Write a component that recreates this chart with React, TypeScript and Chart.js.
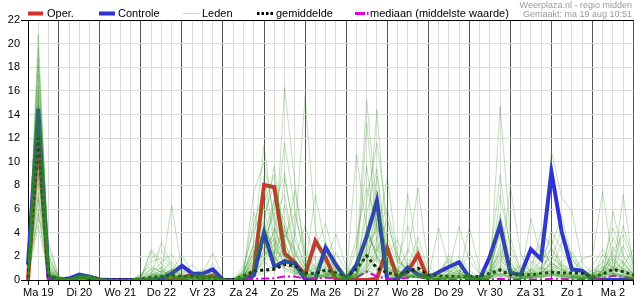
import React, { useEffect, useRef } from 'react';
import { Chart, registerables } from 'chart.js';
Chart.register(...registerables);

// Day labels (tick at 12:00 of each day); series start Ma 19 06:00, 6-hourly
const dayNames = ['Ma 19','Di 20','Wo 21','Do 22','Vr 23','Za 24','Zo 25','Ma 26','Di 27','Wo 28','Do 29','Vr 30','Za 31','Zo 1','Ma 2','Di 3'];
const stepHours = [0, 6, 12, 18];
const pointCount = 60;
const catDay: number[] = [];
const catHour: number[] = [];
const categories: string[] = [];
for (let i = 0; i < pointCount; i++) {
  const s = i + 1;
  catDay.push(Math.floor(s / 4));
  catHour.push(stepHours[s % 4]);
  categories.push(dayNames[Math.floor(s / 4)] + ' ' + String(stepHours[s % 4]).padStart(2, '0') + ':00');
}

const headerLines = ['Weerplaza.nl - regio midden', 'Gemaakt: ma 19 aug 10:51'];

const oper = [
  0, 12.0, 0.15, 0.05, 0.05, 0.25, 0.25, 0.05, 0, 0,
  0, 0, 0, 0.02, 0.05, 0.2, 0.45, 0.2, 0.35, 0,
  0, 0, 0.7, 8.05, 7.85, 2.25, 1.5, 0.42, 3.3, 1.86,
  0, 0, 0, 0, 0.1, 2.73, 0.14, 0.7, 2.15, 0,
  null, null, null, null, null, null, null, null, null, null,
  null, null, null, null, null, null, null, null, null, null,
];

const controle = [
  1.3, 14.5, 0.3, 0.05, 0.12, 0.45, 0.28, 0.03, 0, 0,
  0, 0, 0, 0.1, 0.55, 1.2, 0.56, 0.53, 0.9, 0,
  0, 0, 0.4, 4.0, 1.13, 1.6, 1.4, 0.05, 0.05, 2.73,
  1.3, 0.05, 1.27, 3.67, 6.71, 0.05, 0.05, 1.07, 0.48, 0.2,
  0.65, 1.1, 1.5, 0.22, 0.05, 1.97, 4.65, 0.62, 0.42, 2.6,
  1.75, 9.16, 4.09, 0.9, 0.79, 0.08, 0, 0, 0, 0,
];

const gemiddelde = [
  0.2, 12, 0.4, 0.1, 0.05, 0.2, 0.15, 0.03, 0.02, 0.02,
  0.02, 0.08, 0.25, 0.3, 0.35, 0.3, 0.25, 0.2, 0.2, 0.05,
  0.05, 0.35, 0.75, 0.85, 0.9, 1.3, 1.2, 0.6, 0.55, 0.85,
  0.6, 0.25, 0.9, 2.05, 1.0, 0.62, 0.42, 0.7, 1.0, 0.42,
  0.35, 0.3, 0.28, 0.28, 0.3, 0.55, 0.85, 0.42, 0.48, 0.42,
  0.56, 0.65, 0.6, 0.6, 0.56, 0.25, 0.5, 0.9, 0.7, 0.42,
];

const mediaan = [
  0, 12, 0.1, 0, 0, 0, 0, 0, 0, 0,
  0, 0, 0, 0, 0, 0, 0, 0, 0, 0,
  0, 0.02, 0.1, 0.12, 0.15, 0.3, 0.3, 0.1, 0.1, 0.2,
  0.15, 0.05, 0.2, 0.7, 0.3, 0.1, 0.05, 0.2, 0.3, 0.05,
  0.02, 0.02, 0.02, 0.02, 0.02, 0.05, 0.1, 0.05, 0.05, 0.05,
  0.05, 0.1, 0.1, 0.05, 0.05, 0.05, 0.15, 0.35, 0.3, 0.1,
];

const lid01 = [0.2,20.8,1.2,0.1,0,0.3,0.2,0,0,0, 0,0,0.4,0.8,0.3,0,0,0.1,0,0, 0,0.5,3.2,11.4,4.5,2.0,0.8,0.3,1.2,0.5, 0.2,0,0.8,4.2,2.1,0.6,0.3,1.5,0.8,0.2, 0,0.3,0.6,0.2,0,0.8,2.2,0.9,0.3,0.5, 1.8,3.5,1.2,0.4,0.2,0,0.5,1.8,0.9,0.3];
const lid02 = [1.5,18.2,2.8,0.3,0.1,0.4,0.3,0.1,0,0, 0,0.2,2.6,1.4,0.6,0.2,0.1,0.5,2.3,0.2, 0,0.2,1.1,4.8,9.6,3.2,1.0,0.4,0.2,2.1, 0.9,0.1,1.6,15.2,6.0,1.2,0.4,0.2,0.8,0.3, 0.4,2.1,0.8,0.3,0.1,0.2,14.7,3.6,0.8,0.2, 0.6,1.4,0.9,0.3,0.1,0.2,2.2,0.8,0.4,0.1];
const lid03 = [0.8,16.5,0.6,0.1,0,0.2,0.4,0,0,0, 0.1,0.1,0.3,3.2,1.2,0.3,0.5,0.2,0.1,0, 0,0.8,5.8,2.4,1.6,16.3,8.2,1.8,0.6,0.3, 1.2,0.4,0.2,2.8,14.4,3.1,0.8,0.4,0.3,0.1, 0,0.1,0.2,4.5,1.0,0.3,1.1,0.5,0.2,5.2, 2.0,0.8,0.4,0.2,0.1,0.3,0.6,0.4,7.2,1.0];
const lid04 = [0.1,14.8,0.4,0,0,0.1,0.1,0,0,0, 0,0.5,1.2,0.6,6.3,0.8,0.2,0.1,0.3,0, 0,0.3,0.9,8.8,3.5,1.2,3.8,15.5,4.2,1.0, 0.5,0.2,10.6,4.4,1.9,0.7,0.3,7.3,2.0,0.5, 0.2,0.6,1.3,0.4,0.2,0.5,0.9,7.9,2.2,0.6, 0.3,0.8,1.5,2.4,0.9,0.4,0.2,0.5,0.3,0.2];
const lid05 = [0.4,12.5,0.8,0.2,0.1,0.5,0.3,0.1,0,0, 0,0,0.2,0.5,0.8,2.1,0.6,0.2,0.4,0.1, 0,1.2,4.2,6.1,2.0,0.8,0.5,0.9,7.2,2.8, 0.6,0.2,0.5,1.2,3.4,8.7,2.1,0.6,0.3,0.2, 4.4,1.2,0.5,0.1,0,0.3,0.5,0.2,0.1,0.4, 0.6,10.9,7.0,5.8,1.4,0.6,0.3,0.8,1.6,0.5];
const lid06 = [0,10.2,0.3,0,0,0.2,0.2,0,0,0, 0,0,0,0.3,0.9,0.4,0.2,0,0,0, 0,0.2,2.5,3.1,1.1,6.4,2.3,0.8,2.6,4.8, 1.5,0.4,0.2,0.9,2.6,1.4,0.9,2.2,7.8,1.2, 0.3,0.8,4.5,1.6,0.5,0.2,0.4,1.2,0.6,0.3, 0.2,0.4,0.3,0.6,1.8,2.1,7.5,1.4,0.5,0.2];
const lid07 = [0.6,8.9,1.8,0.2,0,0.3,0.4,0.1,0,0, 0,0.1,0.8,0.4,0.2,0.5,1.3,0.4,0.2,0, 0,0.6,7.5,9.9,5.2,2.6,1.0,0.3,0.4,0.8, 0.3,0.1,0.3,4.6,1.8,0.4,0.2,0.6,0.4,0.1, 0.2,0.4,0.8,0.3,0.1,1.5,8.9,2.4,0.6,0.9, 0.4,0.3,0.8,1.0,0.5,0.3,0.4,5.8,2.1,0.6];
const lid08 = [0.3,6.8,0.5,0.1,0,0.1,0.2,0,0,0, 0,0,0.2,0.1,0.3,0.2,0.1,0.8,0.4,0, 0,0.1,0.4,1.8,7.0,4.4,1.6,0.6,0.2,0.4, 2.3,0.8,0.4,13.3,4.2,1.0,0.5,0.3,0.2,0.6, 0.2,0.1,0.3,0.5,0.2,0.9,0.3,0.6,1.2,0.8, 4.1,2.8,1.0,0.3,0.2,0.1,0.2,0.4,1.2,2.6];
const lid09 = [1.0,5.2,3.2,0.3,0.1,0.4,0.3,0.1,0.1,0, 0,0.3,1.8,2.5,1.0,0.3,0.2,0.1,0.1,0.1, 0,0.4,1.6,2.8,6.2,9.1,3.4,1.2,0.5,0.2, 0.6,0.2,1.1,5.6,9.4,2.4,0.7,0.2,0.4,0.2, 0.1,0.2,0.4,0.2,0.1,0.4,4.8,1.5,0.4,0.2, 0.5,1.6,4.4,1.8,0.6,0.3,0.8,2.4,3.8,1.2];
const lid10 = [0.2,4.6,0.2,0,0,0,0.1,0,0,0, 0,0,0.1,0.2,0.1,0,0,0,0,0, 0,0.1,0.3,0.6,0.9,1.4,0.6,0.2,0.1,0.3, 0.2,0,0.1,0.8,0.5,0.2,0.1,0.3,0.2,0.1, 0,0,0.1,0.1,0,0.1,0.3,0.2,0.1,0.1, 0.2,0.4,0.2,0.1,0,0,0.1,0.3,0.2,0.1];
const lid11 = [0.5,17.4,1.0,0.1,0,0.2,0.3,0,0,0, 0,0.2,0.6,1.5,2.2,0.6,0.2,0.3,0.5,0, 0,0.9,2.1,5.4,8.1,3.6,5.6,2.2,0.9,1.6, 3.9,1.1,0.4,2.2,5.8,3.6,1.4,4.6,1.2,0.4, 0.3,1.8,0.6,0.2,0.1,0.6,2.6,1.1,0.5,1.3, 3.2,1.1,0.6,0.4,0.3,0.8,1.4,4.4,2.0,0.8];
const lid12 = [0.9,15.6,0.7,0.2,0.1,0.3,0.2,0,0,0, 0,0,0.3,0.8,0.4,0.1,0.3,0.6,0.2,0, 0,0.2,0.7,2.6,4.0,11.6,6.0,1.4,0.3,0.5, 0.2,0.1,0.5,6.8,11.6,5.2,1.6,0.8,0.5,0.2, 0.1,0.3,0.2,0.1,0.1,0.3,1.4,0.7,0.2,0.4, 0.9,2.2,1.0,0.5,0.3,0.2,0.6,1.1,0.7,0.3];
const lid13 = [0.1,13.2,0.3,0,0,0.1,0.1,0,0,0, 0,0.1,0.5,0.2,0.1,0.2,0.1,0.2,0.1,0, 0,0.3,1.4,4.2,2.8,1.5,1.8,4.6,1.6,0.7, 0.4,0.1,0.6,3.4,7.6,1.8,0.5,0.3,0.2,0.1, 0.2,0.5,2.0,0.8,0.2,0.3,0.6,0.2,0.1,0.3, 0.5,0.8,0.5,0.2,0.1,0.2,0.8,3.6,1.5,0.4];
const lid14 = [1.2,11.0,2.2,0.2,0.1,0.4,0.2,0.1,0,0, 0,0,0.4,1.1,0.5,0.2,0,0.1,0,0, 0,0.6,2.9,1.6,0.8,3.2,1.1,0.4,0.6,1.0, 0.4,0.2,2.8,9.6,3.2,1.4,0.6,1.8,0.9,0.3, 0.1,0.2,0.4,0.2,0,0.2,7.2,2.9,0.9,0.5, 0.2,0.6,1.3,0.8,0.4,1.2,2.6,1.0,0.6,0.2];
const lid15 = [0.3,9.6,0.4,0.1,0,0.2,0.3,0,0,0, 0,0,0.1,0.4,0.8,0.3,0.1,0.2,0.6,0.1, 0,0.4,1.0,3.6,5.5,7.2,2.4,0.9,3.5,1.4, 0.5,0.2,0.4,1.6,4.8,1.1,0.4,0.6,2.8,0.6, 0.3,0.8,0.3,0.1,0.1,0.5,3.0,0.8,0.3,0.2, 0.5,2.9,5.4,1.8,0.7,0.3,0.5,0.9,2.9,0.9];
const lid16 = [0.7,7.4,1.4,0.1,0,0.3,0.2,0,0,0, 0,0.2,2.4,0.9,0.3,0.1,0.2,0.1,0.1,0, 0,0.2,0.6,1.2,2.2,4.6,1.8,0.5,0.3,0.2, 0.8,0.3,0.2,0.7,1.9,0.6,0.3,0.2,0.6,0.2, 0.1,0.1,0.2,0.3,0.1,0.2,0.8,0.5,0.2,0.6, 1.1,0.6,0.4,0.2,0.1,0.3,0.5,1.8,0.8,0.4];
const lid17 = [0.4,19.6,1.6,0.2,0.1,0.5,0.4,0.1,0,0, 0,0,0.2,0.6,1.6,0.4,0.2,0.3,0.2,0, 0,0.7,4.8,7.6,3.0,1.4,0.6,0.3,0.8,3.2, 1.2,0.3,1.4,3.8,2.4,5.2,1.6,0.9,0.4,0.2, 0.6,0.8,0.5,2.4,0.6,0.8,5.6,1.8,0.7,1.6, 0.9,4.2,2.6,0.9,0.4,0.2,0.4,2.8,1.3,0.5];
const lid18 = [0.2,16.0,0.9,0.1,0,0.2,0.2,0,0,0, 0,0,0.2,0.3,0.6,0.8,0.4,0.1,0.1,0, 0,0.3,2.0,3.2,1.4,2.8,7.6,2.6,1.0,0.4, 0.3,0.1,0.3,1.2,6.4,2.2,3.4,1.2,0.6,0.2, 0.1,0.3,1.1,0.4,0.2,0.4,2.0,0.9,0.3,0.2, 0.4,0.7,3.2,2.1,0.8,0.4,1.1,0.6,0.3,0.1];
const lid19 = [0.6,14.1,1.1,0.1,0,0.3,0.3,0,0,0, 0,0.4,1.5,1.9,0.8,0.2,0.1,0.4,0.8,0, 0,0.5,1.8,6.6,8.9,2.4,1.2,0.7,2.0,0.9, 0.3,0.1,0.6,2.6,8.8,1.8,0.6,2.6,1.4,0.4, 0.2,0.6,0.3,0.1,0.1,1.1,3.8,1.0,0.4,0.8, 2.4,1.5,0.7,0.3,0.2,0.5,1.2,0.8,4.6,1.6];
const lid20 = [0,12.0,0.5,0.1,0,0.1,0.2,0,0,0, 0,0,0.1,0.2,0.4,0.1,0.1,0,0.1,0, 0,0.1,0.5,2.0,3.6,1.8,0.9,0.4,0.2,0.6, 0.5,0.1,0.2,1.0,2.8,0.8,0.3,0.4,0.3,0.1, 0,0.2,0.1,0.1,0,0.1,1.0,0.4,0.1,0.2, 0.3,0.6,0.4,0.2,0.1,0.1,0.3,0.6,0.4,0.2];
const lid21 = [1.4,10.8,0.6,0.1,0,0.2,0.1,0,0,0, 0,0,0.3,0.5,0.3,0.2,0.4,0.9,0.3,0, 0,0.4,1.2,4.6,2.2,8.6,4.0,1.0,0.4,0.3, 0.9,0.3,0.8,3.0,4.2,6.1,2.0,0.5,0.3,0.2, 0.1,0.4,0.8,0.3,0.1,0.3,1.8,0.6,0.2,0.4, 0.6,1.2,0.8,0.4,0.2,0.2,0.4,1.2,0.9,0.4];
const lid22 = [0.5,8.2,0.8,0.1,0,0.2,0.2,0,0,0, 0,0.1,0.6,0.3,0.2,0.4,0.2,0.1,0.2,0, 0,0.2,0.8,1.4,4.4,2.0,0.8,0.6,1.4,0.5, 0.3,0.1,0.4,0.8,1.2,0.5,0.2,0.5,0.4,0.1, 0.1,0.2,0.3,0.1,0.1,0.3,0.6,0.3,0.1,0.3, 0.8,0.5,0.3,0.2,0.4,0.9,0.6,0.3,0.2,0.1];
const lid23 = [0.2,6.0,0.3,0,0,0.1,0.1,0,0,0, 0,0,0.2,0.4,0.2,0.1,0,0.2,0.3,0, 0,0.6,3.0,5.0,1.8,1.0,0.5,0.2,0.6,1.8, 0.7,0.2,0.3,0.6,2.0,1.0,0.4,0.3,0.2,0.1, 0,0.1,0.2,0.1,0,0.2,0.5,0.3,0.1,0.2, 0.3,0.5,0.3,0.1,0.1,0.4,1.0,0.5,0.2,0.1];
const lid24 = [0.8,18.8,2.0,0.2,0.1,0.3,0.2,0.1,0,0, 0,0.3,0.9,1.0,0.5,0.3,0.6,0.2,1.4,0.1, 0,0.3,1.4,3.8,6.8,5.0,2.2,0.8,0.5,0.4, 1.6,0.4,3.6,7.8,4.6,1.6,0.8,0.4,0.2,0.3, 0.8,1.6,0.6,0.2,0.1,0.6,4.2,1.4,0.5,0.8, 1.6,2.6,1.4,0.8,0.3,0.2,0.9,2.0,1.1,0.5];
const lid25 = [0.3,15.0,0.6,0.1,0,0.2,0.3,0,0,0, 0,0,0.4,0.6,0.2,0.1,0.2,0.4,0.2,0, 0,0.2,0.9,2.4,1.6,3.8,2.6,1.2,0.4,2.6, 1.0,0.3,0.4,2.0,3.0,1.2,0.5,1.0,3.6,0.8, 0.2,0.4,0.2,0.1,0,0.2,0.8,0.4,0.2,0.5, 1.0,0.8,0.5,0.3,0.2,0.6,0.8,0.5,0.3,0.2];
const lid26 = [0.1,13.8,0.4,0.1,0,0.1,0.2,0,0,0, 0,0.1,0.2,0.3,0.9,0.5,0.1,0.1,0.1,0, 0,0.4,1.6,3.4,2.0,1.0,0.7,0.3,0.2,0.6, 0.4,0.1,0.2,1.4,5.2,2.6,0.8,0.3,0.5,0.2, 0.1,0.2,0.5,0.2,0.1,0.2,1.2,0.6,0.2,0.3, 0.5,0.9,0.6,0.4,0.2,0.3,0.5,1.5,1.0,0.4];
const lid27 = [0.6,11.8,0.9,0.1,0,0.2,0.2,0,0,0, 0,0,0.3,0.4,0.3,0.2,0.1,0.3,0.4,0, 0,0.3,1.1,2.2,3.0,4.2,1.6,0.6,1.0,0.6, 0.3,0.1,0.5,2.4,3.6,1.0,0.4,0.8,0.6,0.2, 0.1,0.3,0.6,0.3,0.1,0.4,2.4,0.8,0.3,0.6, 0.7,1.4,0.9,0.5,0.2,0.4,0.7,2.2,1.4,0.5];
const lid28 = [0.4,9.0,0.7,0.1,0,0.2,0.1,0,0,0, 0,0,0.2,0.3,0.2,0.1,0.1,0.2,0.2,0, 0,0.2,0.6,1.6,2.4,2.0,1.3,0.5,0.3,0.4, 0.6,0.2,0.3,1.0,2.2,1.6,0.6,0.4,0.3,0.1, 0.1,0.2,0.3,0.2,0.1,0.2,0.9,0.5,0.2,0.4, 0.6,0.5,0.4,0.3,0.1,0.2,0.4,0.9,0.6,0.3];
const lid29 = [1.1,7.0,1.3,0.2,0,0.3,0.2,0,0,0, 0,0.2,1.0,0.7,0.4,0.2,0.3,0.5,0.6,0, 0,0.5,2.4,4.0,3.2,2.4,0.9,0.4,0.7,1.2, 0.5,0.2,0.6,2.2,1.6,0.8,0.5,1.2,0.7,0.2, 0.3,0.5,1.4,0.5,0.2,0.5,1.6,1.0,0.4,0.7, 1.2,1.9,1.2,0.6,0.3,0.5,1.6,1.0,0.8,0.3];
const lid30 = [0.2,5.6,0.2,0,0,0.1,0.1,0,0,0, 0,0,0.1,0.2,0.1,0,0,0.1,0,0, 0,0.1,0.4,0.8,1.2,1.6,0.7,0.3,0.2,0.3, 0.2,0.1,0.2,0.6,1.0,0.4,0.2,0.3,0.2,0.1, 0,0.1,0.2,0.1,0,0.1,0.4,0.2,0.1,0.2, 0.3,0.4,0.3,0.2,0.1,0.2,0.3,0.6,0.4,0.2];

const leden = [lid01, lid02, lid03, lid04, lid05, lid06, lid07, lid08, lid09, lid10,
  lid11, lid12, lid13, lid14, lid15, lid16, lid17, lid18, lid19, lid20,
  lid21, lid22, lid23, lid24, lid25, lid26, lid27, lid28, lid29, lid30];

const yTickMax = 22;

const RED = '#d83030';
const BLUE = '#3030d8';
const GREEN = 'rgba(50,150,30,0.3)';
const MAGENTA = '#dd00dd';
const FONT = '"Liberation Sans", Arial, sans-serif';

const legendPlugin = {
  id: 'ensembleLegend',
  afterDraw(chart: any) {
    const ctx = chart.ctx as CanvasRenderingContext2D;
    ctx.save();
    ctx.font = '9px ' + FONT;
    ctx.fillStyle = '#9a9a9a';
    ctx.textAlign = 'right';
    ctx.textBaseline = 'alphabetic';
    ctx.fillText(headerLines[0], 632, 7.5);
    ctx.fillText(headerLines[1], 632, 17);

    const items = [
      { label: 'Oper.', x0: 28, x1: 43, tx: 47, color: RED, w: 4, dash: [] as number[] },
      { label: 'Controle', x0: 99, x1: 115, tx: 118, color: BLUE, w: 4, dash: [] as number[] },
      { label: 'Leden', x0: 183, x1: 199, tx: 202, color: GREEN, w: 1, dash: [] as number[] },
      { label: 'gemiddelde', x0: 257, x1: 273, tx: 276, color: '#000', w: 3, dash: [2.5, 2] },
      { label: 'mediaan (middelste waarde)', x0: 355, x1: 369, tx: 370, color: MAGENTA, w: 3, dash: [10, 2, 1.5, 2] },
    ];
    ctx.font = '11px ' + FONT;
    ctx.textAlign = 'left';
    items.forEach((it) => {
      ctx.beginPath();
      ctx.setLineDash(it.dash);
      ctx.lineWidth = it.w;
      ctx.strokeStyle = it.color;
      ctx.lineCap = 'butt';
      ctx.moveTo(it.x0, 13.5);
      ctx.lineTo(it.x1, 13.5);
      ctx.stroke();
      ctx.setLineDash([]);
      ctx.fillStyle = '#000';
      ctx.fillText(it.label, it.tx, 17);
    });
    ctx.restore();
  },
};

export default function App() {
  const ref = useRef<HTMLCanvasElement | null>(null);
  useEffect(() => {
    if (!ref.current) return;
    const memberSets = leden.map((d, k) => ({
      label: k === 0 ? 'Leden' : 'Leden ' + (k + 1),
      data: d,
      borderColor: GREEN,
      borderWidth: 1,
      pointRadius: 0,
      tension: 0,
      fill: false,
    }));
    const chart = new Chart(ref.current, {
      type: 'line',
      data: {
        labels: categories,
        datasets: [
          ...memberSets,
          { label: 'gemiddelde', data: gemiddelde, borderColor: '#111', borderWidth: 3, borderDash: [3, 3], pointRadius: 0, tension: 0, fill: false },
          { label: 'mediaan (middelste waarde)', data: mediaan, borderColor: MAGENTA, borderWidth: 2, borderDash: [8, 3, 2, 3], pointRadius: 0, tension: 0, fill: false },
          { label: 'Controle', data: controle, borderColor: BLUE, borderWidth: 4, pointRadius: 0, tension: 0, fill: false },
          { label: 'Oper.', data: oper, borderColor: RED, borderWidth: 4, pointRadius: 0, tension: 0, fill: false, spanGaps: false },
        ] as any,
      },
      options: {
        animation: false,
        responsive: false,
        devicePixelRatio: 1,
        layout: { padding: { top: 20, right: 1.5, bottom: 0, left: 0 } },
        plugins: { legend: { display: false }, tooltip: { enabled: false }, title: { display: false } },
        scales: {
          x: {
            type: 'category',
            offset: false,
            afterFit: (s: any) => { s.height = 20; },
            grid: {
              color: (c: any) => (c.index === 0 ? '#000' : ((c.index + 1) % 4 === 0 ? '#555' : '#dadada')),
              tickColor: '#000',
              tickLength: 5,
              lineWidth: 1,
            },
            border: { color: '#000', width: 1 },
            ticks: {
              autoSkip: false,
              maxRotation: 0,
              minRotation: 0,
              padding: 1,
              color: '#000',
              font: { family: FONT, size: 11 },
              callback: (_v: any, i: number) => (catHour[i] === 12 ? dayNames[catDay[i]] : ''),
            },
          },
          y: {
            min: 0,
            max: yTickMax,
            afterFit: (s: any) => { s.width = 28; },
            grid: {
              color: (c: any) => (c.tick && (c.tick.value === yTickMax || c.tick.value === 0) ? '#000' : '#dadada'),
              tickColor: (c: any) => (c.tick && (c.tick.value === yTickMax || c.tick.value === 0) ? '#000' : 'rgba(0,0,0,0)'),
              tickLength: 7,
              lineWidth: 1,
            },
            border: { color: '#000', width: 1 },
            ticks: {
              stepSize: 1,
              padding: 1,
              color: '#000',
              font: { family: FONT, size: 11 },
              callback: (v: any) => (Number(v) % 2 === 0 ? String(v) : ''),
            },
          },
        },
      } as any,
      plugins: [legendPlugin],
    });
    return () => chart.destroy();
  }, []);

  return (
    <div style={{ position: 'fixed', left: 0, top: 0, width: 635, height: 300, background: '#fff' }}>
      <canvas ref={ref} width={635} height={300} style={{ display: 'block', width: 635, height: 300 }} />
    </div>
  );
}
